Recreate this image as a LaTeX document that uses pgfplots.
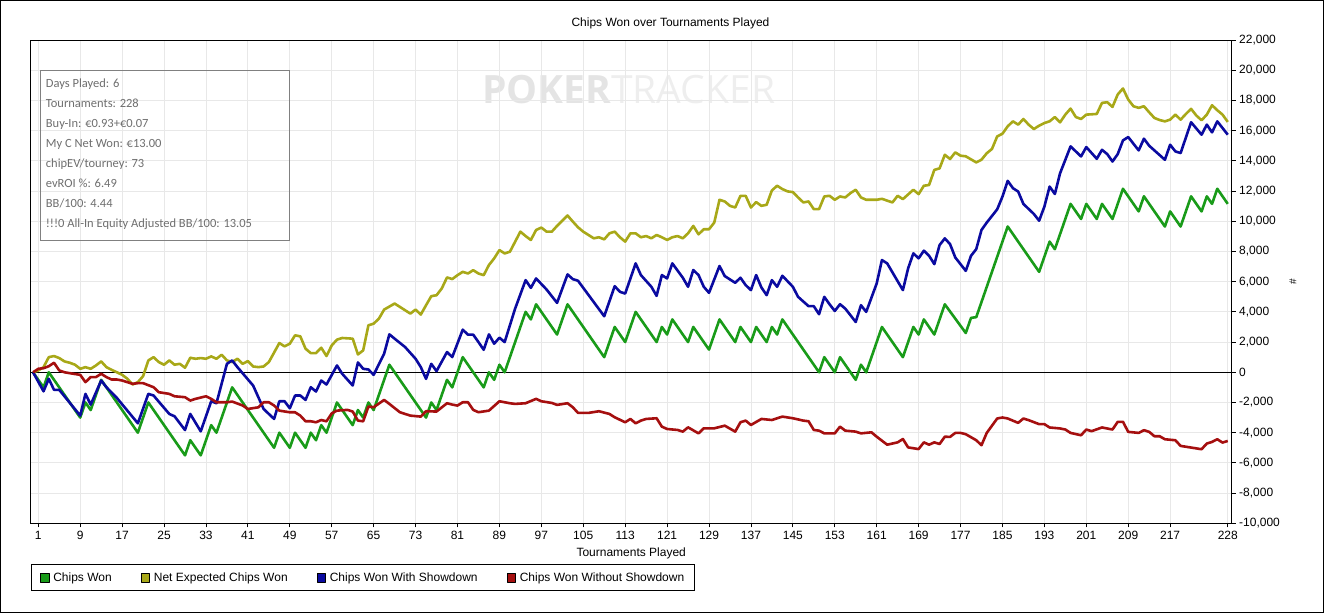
\documentclass[border=0pt]{standalone}
\usepackage{pgfplots}
\pgfplotsset{compat=1.18}
\usepackage{fontspec}
\setmainfont{Liberation Sans}
\newfontfamily\boxfont{Carlito}
\newfontfamily\wmfont{Open Sans}
\definecolor{cgreen}{RGB}{25,155,25}
\definecolor{colive}{RGB}{168,168,24}
\definecolor{cblue}{RGB}{10,10,160}
\definecolor{cred}{RGB}{165,15,15}
\definecolor{boxtext}{RGB}{110,110,110}
\definecolor{gridc}{RGB}{232,232,232}
\begin{document}
\begin{tikzpicture}
\useasboundingbox (0,0) rectangle (1325bp,-614bp);
\draw[line width=1bp] (0.7bp,-0.7bp) rectangle (1323.3bp,-612.7bp);
\node[anchor=base, inner sep=0] at (670.5bp,-26.3bp) {\fontsize{12bp}{14bp}\selectfont Chips Won over Tournaments Played};
\node[anchor=base west, inner sep=0] at (482bp,-103bp) {\wmfont\fontsize{39bp}{39bp}\selectfont\color[RGB]{228,228,228}\bfseries POKER\mdseries\color[RGB]{238,238,238}TRACKER};
\begin{axis}[
  at={(30.7bp,-40bp)}, anchor=north west,
  width=1201bp, height=483.3bp, scale only axis,
  xmin=-0.45, xmax=228.75, ymin=-10000, ymax=22000,
  axis line style={line width=1bp},
  xmajorgrids, ymajorgrids,
  grid style={color=gridc, line width=0.8bp},
  xtick={1,9,...,217,228},
  ytick={-10000,-8000,...,22000},
  xtick pos=left, ytick pos=right, yticklabel pos=right,
  tick align=outside, major tick length=4bp,
  tick style={black, line width=0.8bp},
  ticklabel style={font=\fontsize{12bp}{14bp}\selectfont},
  /pgf/number format/assume math mode=true,
  /pgf/number format/1000 sep={,},
  scaled y ticks=false,
  xlabel={Tournaments Played},
  xlabel style={at={(axis description cs:0.5,0)}, anchor=base, yshift=-32.7bp, font=\fontsize{12bp}{14bp}\selectfont},
  ylabel={\#},
  ylabel style={at={(axis description cs:1.051,0.5)}, anchor=center, font=\fontsize{10bp}{12bp}\selectfont},
  legend columns=4,
  legend style={at={(axis description cs:0,0)}, anchor=north west, yshift=-41bp,
    draw=black, line width=1bp, inner xsep=9bp, inner ysep=7bp,
    font=\fontsize{12bp}{14bp}\selectfont,
    nodes={inner sep=1bp},
    /tikz/every odd column/.append style={column sep=3bp},
    /tikz/every even column/.append style={column sep=28bp}},
  every axis plot/.append style={line width=2.6bp, line join=round, mark=none},
]
\draw[black, line width=1bp] (axis cs:-0.45,0) -- (axis cs:228.75,0);
\addplot[cgreen, legend image code/.code={\draw[black,line width=0.6bp,fill=cgreen] (0bp,-4.25bp) rectangle (8.5bp,4.25bp);}] coordinates {
(0,0)(2,-1000)(3,0)(9,-3000)(10,-2000)(11,-2500)(13,-500)(20,-4000)(22,-2000)(29,-5500)(30,-4500)(32,-5500)(34,-3500)(35,-4000)(38,-1000)(46,-5000)(47,-4000)(49,-5000)(50,-4000)(52,-5000)(53,-4000)(54,-4500)(55,-3500)(56,-4000)(58,-2000)(61,-3500)(62,-2500)(63,-3000)(64,-2000)(65,-2500)(68,500)(75,-3000)(76,-2000)(77,-2500)(79,-500)(80,-1000)(82,1000)(86,-1000)(87,0)(88,-500)(89,500)(90,0)(94,4000)(95,3500)(96,4500)(100,2500)(102,4500)(109,1000)(111,3000)(113,2000)(115,4000)(119,2000)(120,3000)(121,2500)(122,3500)(125,2000)(126,3000)(129,1500)(131,3500)(134,2000)(135,3000)(137,2000)(138,3000)(140,2000)(141,3000)(142,2500)(143,3500)(150,0)(151,1000)(153,0)(154,1000)(157,-500)(158,500)(159,0)(162,3000)(166,1000)(168,3000)(169,2500)(170,3500)(172,2500)(174,4500)(178,2600)(179,3600)(180,3650)(186,9650)(192,6650)(194,8650)(195,8150)(198,11150)(200,10150)(201,11150)(203,10150)(204,11150)(206,10150)(208,12150)(211,10650)(212,11650)(216,9650)(217,10650)(219,9650)(221,11650)(223,10650)(224,11650)(225,11150)(226,12150)(228,11150)
};
\addlegendentry{Chips Won}
\addplot[colive, legend image code/.code={\draw[black,line width=0.6bp,fill=colive] (0bp,-4.25bp) rectangle (8.5bp,4.25bp);}] coordinates {
(0,0)(1,120)(2,340)(3,1000)(4,1075)(5,940)(6,720)(7,630)(8,500)(9,230)(10,340)(11,230)(12,450)(13,720)(14,340)(15,160)(16,0)(17,-170)(18,-430)(19,-810)(20,-655)(21,-255)(22,785)(23,1000)(24,675)(25,500)(26,785)(27,500)(28,560)(29,300)(30,960)(31,895)(32,940)(33,895)(34,1050)(35,895)(36,1160)(37,785)(38,675)(39,895)(40,560)(41,740)(42,385)(43,340)(44,385)(45,675)(47,1935)(48,1715)(49,1890)(50,2445)(51,2380)(52,1560)(53,1270)(54,1270)(55,1625)(56,1075)(57,1780)(58,2160)(59,2270)(61,2225)(62,1180)(63,1450)(64,3110)(65,3220)(66,3550)(67,4150)(69,4550)(70,4330)(72,3885)(73,4150)(74,3820)(75,4440)(76,5040)(77,5100)(78,5550)(79,6280)(80,6170)(81,6430)(82,6650)(83,6540)(84,6760)(85,6540)(86,6430)(87,7100)(88,7540)(89,8090)(90,7870)(91,7980)(93,9310)(94,9020)(95,8760)(96,9420)(97,9580)(98,9310)(99,9310)(100,9690)(102,10380)(103,9980)(104,9600)(105,9310)(106,9090)(107,8870)(108,8940)(109,8800)(110,9200)(111,9310)(112,8940)(113,8650)(114,9200)(115,9200)(116,8940)(117,9020)(118,8870)(119,9090)(120,8940)(121,8760)(122,8940)(123,9020)(124,8870)(125,9200)(126,9690)(127,9135)(128,9470)(129,9470)(130,9910)(131,11420)(132,11310)(133,11020)(134,10910)(135,11680)(136,11680)(137,10910)(138,11265)(139,11020)(140,11090)(141,12040)(142,12350)(143,12130)(144,11975)(145,11930)(146,11575)(147,11245)(148,11310)(149,10800)(150,10800)(151,11640)(152,11685)(153,11420)(154,11640)(155,11575)(156,11865)(157,12085)(158,11575)(159,11420)(161,11420)(162,11485)(164,11245)(165,11685)(166,11465)(168,12085)(169,11795)(170,12350)(171,12400)(172,13400)(173,13500)(174,14400)(175,14120)(176,14560)(177,14340)(178,14300)(180,13895)(181,14075)(182,14500)(183,14785)(184,15620)(185,15795)(186,16285)(187,16615)(188,16395)(189,16770)(190,16395)(191,16105)(192,16330)(193,16500)(194,16615)(195,16900)(196,16550)(197,17060)(198,17460)(199,16900)(200,16770)(201,17060)(202,17080)(203,17105)(204,17835)(205,17880)(206,17570)(207,18395)(208,18790)(209,18060)(210,17615)(211,17505)(212,17615)(213,17215)(214,16840)(215,16700)(216,16615)(217,16725)(218,17060)(219,16725)(220,17100)(221,17440)(222,17000)(223,16685)(224,17060)(225,17680)(226,17350)(227,17060)(228,16575)
};
\addlegendentry{Net Expected Chips Won}
\addplot[cblue, legend image code/.code={\draw[black,line width=0.6bp,fill=cblue] (0bp,-4.25bp) rectangle (8.5bp,4.25bp);}] coordinates {
(0,0)(2,-1260)(3,-430)(4,-1165)(5,-1165)(9,-2870)(10,-1430)(11,-2140)(13,-545)(14,-990)(16,-1700)(18,-2540)(20,-3380)(22,-1430)(23,-1540)(24,-1950)(26,-2760)(27,-2915)(29,-3825)(30,-2760)(32,-3910)(34,-1920)(35,-2050)(37,560)(38,785)(39,340)(42,-880)(44,-2430)(46,-3090)(47,-1920)(48,-1920)(49,-2385)(50,-1540)(51,-1540)(52,-1830)(53,-990)(54,-1275)(55,-545)(56,-810)(58,450)(59,-100)(61,-875)(62,650)(63,230)(64,185)(65,-170)(67,1230)(68,2510)(69,2225)(71,1670)(73,895)(74,340)(75,-435)(76,560)(77,75)(79,1340)(80,1005)(82,2820)(83,2490)(84,2490)(85,2000)(86,1490)(87,2510)(88,1890)(89,2290)(90,2000)(92,4215)(94,6100)(95,5590)(96,6210)(98,5480)(100,4595)(102,6480)(103,6170)(104,6060)(109,3710)(111,5700)(112,5330)(113,5210)(115,7210)(116,6435)(118,5660)(119,5060)(120,6435)(121,6215)(122,7210)(124,6260)(125,5660)(126,6770)(127,6435)(128,5660)(129,5260)(131,7035)(132,6370)(134,5925)(135,6260)(136,5770)(137,5440)(138,6435)(139,5615)(140,5105)(141,6100)(142,5660)(143,6390)(145,5660)(146,4995)(148,4375)(149,4375)(150,3845)(151,4995)(152,4505)(153,4060)(154,4505)(155,4215)(156,3775)(157,3330)(158,4440)(159,4000)(161,5880)(162,7430)(163,7210)(166,5440)(167,6880)(168,7875)(169,7545)(170,8050)(171,7710)(172,7160)(173,8420)(174,8865)(175,8485)(176,7600)(178,6715)(179,7710)(180,8155)(181,9420)(182,9910)(184,10790)(185,11630)(186,12675)(187,12190)(188,11965)(189,11145)(191,10480)(192,10035)(193,10965)(194,12295)(195,11805)(196,13180)(198,14955)(200,14290)(201,14910)(203,14135)(204,14730)(205,14445)(206,13955)(207,14445)(208,15350)(209,15575)(211,14690)(212,15465)(213,15000)(214,14690)(216,14070)(217,15065)(218,14625)(219,14515)(221,16555)(223,15730)(224,16395)(225,15885)(226,16615)(228,15730)
};
\addlegendentry{Chips Won With Showdown}
\addplot[cred, legend image code/.code={\draw[black,line width=0.6bp,fill=cred] (0bp,-4.25bp) rectangle (8.5bp,4.25bp);}] coordinates {
(0,0)(1,230)(2,270)(3,400)(4,630)(5,120)(6,0)(7,-60)(9,-170)(10,-655)(11,-320)(12,-320)(13,-100)(14,-320)(15,-480)(16,-480)(17,-545)(19,-765)(20,-720)(21,-720)(23,-990)(24,-1320)(26,-1430)(27,-1590)(29,-1650)(30,-1875)(31,-1760)(33,-1590)(34,-1760)(35,-1985)(37,-1985)(38,-1940)(40,-2200)(41,-2430)(43,-2320)(44,-1985)(45,-1985)(46,-2200)(47,-2540)(49,-2650)(50,-2650)(51,-2870)(52,-3245)(53,-3245)(54,-3310)(55,-3160)(56,-3245)(57,-2720)(58,-2540)(60,-2490)(61,-2600)(62,-3200)(63,-3245)(64,-2270)(65,-2315)(67,-1830)(68,-2095)(70,-2645)(72,-2870)(74,-2935)(75,-2580)(77,-2600)(79,-2050)(80,-2140)(81,-2205)(82,-1985)(83,-1985)(84,-2490)(85,-2645)(87,-2540)(89,-1920)(91,-2050)(92,-2095)(94,-2050)(96,-1760)(97,-1920)(99,-2030)(100,-2160)(102,-2050)(103,-2315)(104,-2690)(106,-2690)(108,-2580)(110,-2760)(111,-2980)(113,-3310)(114,-3090)(115,-3380)(116,-3200)(117,-3090)(119,-3045)(120,-3600)(121,-3755)(123,-3820)(124,-3930)(125,-3645)(127,-4045)(128,-3710)(130,-3710)(132,-3535)(134,-3930)(135,-3310)(136,-3200)(137,-3490)(139,-3090)(141,-3160)(143,-2935)(145,-3045)(147,-3200)(148,-3245)(149,-3820)(150,-3865)(151,-4045)(153,-4045)(154,-3600)(155,-3865)(157,-3930)(158,-4045)(160,-3975)(161,-4265)(163,-4795)(165,-4640)(166,-4420)(167,-4975)(169,-5085)(170,-4640)(171,-4795)(172,-4640)(173,-4750)(174,-4265)(175,-4280)(176,-4015)(177,-4015)(178,-4100)(180,-4500)(181,-4830)(182,-4015)(184,-3060)(185,-2995)(186,-3060)(188,-3350)(189,-3060)(190,-3170)(192,-3435)(193,-3435)(194,-3655)(196,-3720)(197,-3790)(198,-4015)(200,-4170)(201,-3790)(202,-3900)(204,-3655)(206,-3790)(207,-3280)(208,-3280)(209,-3945)(211,-4015)(212,-3835)(213,-3945)(214,-4235)(215,-4235)(216,-4435)(218,-4500)(219,-4875)(221,-4985)(223,-5095)(224,-4720)(225,-4610)(226,-4435)(227,-4655)(228,-4545)
};
\addlegendentry{Chips Won Without Showdown}
\end{axis}
\draw[color={rgb,255:red,128;green,128;blue,128}, line width=1bp] (40.7bp,-70bp) rectangle (289.3bp,-240bp);
\begin{scope}[every node/.style={anchor=base west, inner sep=0, text=boxtext, font=\boxfont\fontsize{12.5bp}{14bp}\selectfont}]
\node at (45.7bp,-87bp) {Days Played: 6};
\node at (45.7bp,-107bp) {Tournaments: 228};
\node at (45.7bp,-127bp) {Buy-In: €0.93+€0.07};
\node at (45.7bp,-147bp) {My C Net Won: €13.00};
\node at (45.7bp,-167bp) {chipEV/tourney: 73};
\node at (45.7bp,-187bp) {evROI \%: 6.49};
\node at (45.7bp,-207bp) {BB/100: 4.44};
\node at (45.7bp,-227bp) {!!!0 All-In Equity Adjusted BB/100: 13.05};
\end{scope}
\end{tikzpicture}
\end{document}
